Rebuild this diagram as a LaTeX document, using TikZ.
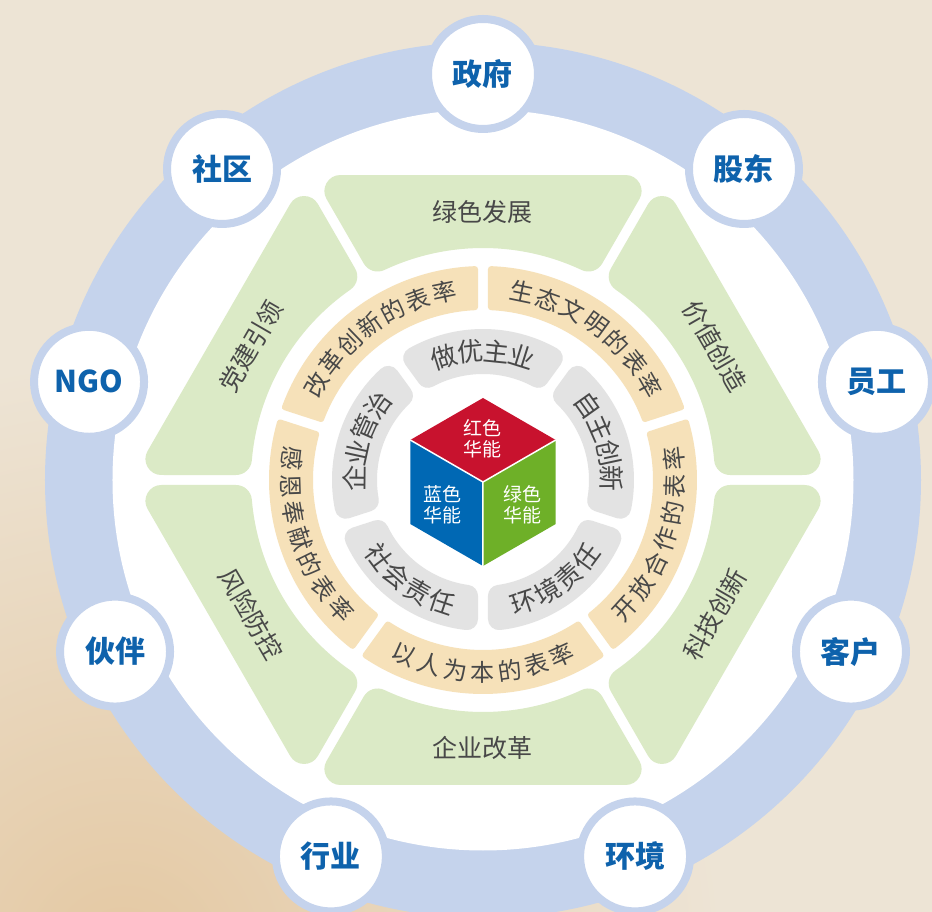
\documentclass[tikz,border=0pt]{standalone}
\usepackage{fontspec}
\setmainfont{Noto Sans CJK SC}
\usetikzlibrary{calc}

\definecolor{paper}{RGB}{237,228,213}
\definecolor{paperwarm}{RGB}{228,200,162}
\definecolor{ringblue}{RGB}{197,211,236}
\definecolor{nameblue}{RGB}{14,98,172}
\definecolor{leaf}{RGB}{219,234,198}
\definecolor{sand}{RGB}{246,225,185}
\definecolor{stone}{RGB}{227,227,227}
\definecolor{ink}{RGB}{72,72,72}
\definecolor{cubered}{RGB}{200,18,46}
\definecolor{cubeblue}{RGB}{0,104,180}
\definecolor{cubegreen}{RGB}{110,176,40}

\tikzset{
  stake/.style={circle, fill=white, draw=ringblue, line width=8pt, minimum size=110pt,
    inner sep=0pt, text=nameblue, font=\fontsize{30}{30}\selectfont\bfseries},
  leaflabel/.style={text=ink, inner sep=0pt, font=\fontsize{25}{25}\selectfont},
  cubelabel/.style={text=white, align=center, inner sep=0pt, font=\fontsize{19}{21}\selectfont}
}

% piece of a ring: colour, inner r, outer r, from, to, rounding, half gap
\newcommand{\ringpiece}[7]{%
  \pgfmathsetmacro\pri{#2+#6}
  \pgfmathsetmacro\pro{#3-#6}
  \pgfmathsetmacro\pdd{#7+#6}
  \pgfmathsetmacro\pbo{asin(\pdd/\pro)}
  \pgfmathsetmacro\pbi{asin(\pdd/\pri)}
  \pgfmathsetmacro\plw{2*#6}
  \filldraw[#1, line width=\plw pt, line join=round]
    (#4+\pbo:\pro) arc[start angle=#4+\pbo, end angle=#5-\pbo, radius=\pro]
    -- (#5-\pbi:\pri) arc[start angle=#5-\pbi, end angle=#4+\pbi, radius=\pri] -- cycle;
}

% piece of the hexagon: side centre angle
\newcommand{\hexpiece}[1]{%
  \pgfmathsetmacro\hq{(289-0.5*21)/cos(30)}
  \pgfmathsetmacro\hro{veclen(\hq,21)}
  \pgfmathsetmacro\hbo{atan(21/\hq)}
  \pgfmathsetmacro\hbi{asin(21/248)}
  \filldraw[leaf, line width=32pt, line join=round]
    (#1-30+\hbo:\hro) -- (#1+30-\hbo:\hro) -- (#1+30-\hbi:248)
    arc[start angle=#1+30-\hbi, end angle=#1-30+\hbi, radius=248] -- cycle;
}

% letters round an arc: name, size, radius, centre angle, step, turn, count, letters
\newcommand{\arctext}[8]{%
  \foreach \ch [count=\cc] in {#8}{
    \pgfmathsetmacro\chang{#4+((#7+1)/2-\cc)*#5}
    \pgfmathsetmacro\chrot{\chang+#6}
    \node[text=ink, inner sep=0pt, rotate=\chrot, font=\fontsize{#2}{#2}\selectfont]
      (#1\cc) at (\chang:#3) {\ch};
  }
}

\begin{document}
\begin{tikzpicture}[x=1pt, y=1pt]
  \useasboundingbox (-483,-432) rectangle (449,480);
  % paper
  \fill[paper] (-483,-432) rectangle (449,480);
  \begin{scope}
    \clip (-483,-432) rectangle (449,480);
    \shade[inner color=paperwarm, outer color=paper] (-360,-480) circle (600);
  \end{scope}
  % outer ring
  \draw[ringblue, line width=68pt] (0,0) circle (404);
  \fill[white] (0,0) circle (370.5);
  % hexagon
  \hexpiece{90}
  \hexpiece{30}
  \hexpiece{-30}
  \hexpiece{-90}
  \hexpiece{-150}
  \hexpiece{150}
  \node[leaflabel] (lsfz) at (90:268) {绿色发展};
  \node[leaflabel, rotate=-60] (jzcz) at (30:268) {价值创造};
  \node[leaflabel, rotate=60] (kjcx) at (-30:268) {科技创新};
  \node[leaflabel] (qygg) at (-90:268) {企业改革};
  \node[leaflabel, rotate=-60] (fxfk) at (-150:268) {风险防控};
  \node[leaflabel, rotate=60] (djyl) at (150:268) {党建引领};
  % sand ring
  \ringpiece{sand}{170}{214}{18}{90}{3}{5}
  \ringpiece{sand}{170}{214}{90}{162}{3}{5}
  \ringpiece{sand}{170}{214}{162}{234}{3}{5}
  \ringpiece{sand}{170}{214}{234}{306}{3}{5}
  \ringpiece{sand}{170}{214}{-54}{18}{3}{5}
  \arctext{st}{24}{192}{54}{8.1}{-90}{7}{生,态,文,明,的,表,率}
  \arctext{gg}{24}{192}{126}{8.1}{-90}{7}{改,革,创,新,的,表,率}
  \arctext{ge}{24}{192}{198}{-8.1}{90}{7}{感,恩,奉,献,的,表,率}
  \arctext{yr}{24}{192}{-90}{-8.1}{90}{7}{以,人,为,本,的,表,率}
  \arctext{kf}{24}{192}{-18}{-8.1}{90}{7}{开,放,合,作,的,表,率}
  % stone ring
  \ringpiece{stone}{106}{151}{54}{126}{11}{5}
  \ringpiece{stone}{106}{151}{-18}{54}{11}{5}
  \ringpiece{stone}{106}{151}{-90}{-18}{11}{5}
  \ringpiece{stone}{106}{151}{198}{270}{11}{5}
  \ringpiece{stone}{106}{151}{126}{198}{11}{5}
  \arctext{zy}{26}{129}{90}{11.6}{-90}{4}{做,优,主,业}
  \arctext{zz}{26}{129}{18}{11.6}{-90}{4}{自,主,创,新}
  \arctext{hj}{26}{129}{-54}{-11.6}{90}{4}{环,境,责,任}
  \arctext{sh}{26}{129}{-126}{-11.6}{90}{4}{社,会,责,任}
  \arctext{gz}{26}{129}{162}{11.6}{-90}{4}{企,业,管,治}
  % cube
  \coordinate (cc) at (0,-2);
  \fill[cubered] (cc) -- ++(30:84) -- ++(150:84) -- ++(210:84) -- cycle;
  \fill[cubeblue] (cc) -- ++(150:84) -- ++(270:84) -- ++(330:84) -- cycle;
  \fill[cubegreen] (cc) -- ++(270:84) -- ++(30:84) -- ++(90:84) -- cycle;
  \draw[white, line width=1.5pt] (cc) -- ++(30:84) (cc) -- ++(150:84) (cc) -- ++(270:84);
  \node[cubelabel] (hong) at (0,41) {红色\\华能};
  \node[cubelabel] (lan) at (-40,-25) {蓝色\\华能};
  \node[cubelabel] (lv) at (39,-25) {绿色\\华能};
  % stakeholders
  \node[stake] (zhengfu) at (90:406) {政府};
  \node[stake] (gudong) at (50:406) {股东};
  \node[stake] (yuangong) at (14:406) {员工};
  \node[stake] (kehu) at (-25:406) {客户};
  \node[stake] (huanjing) at (-68:406) {环境};
  \node[stake] (hangye) at (-112:406) {行业};
  \node[stake] (huoban) at (-155:406) {伙伴};
  \node[stake] (ngo) at (166:406) {NGO};
  \node[stake] (shequ) at (130:406) {社区};
\end{tikzpicture}
\end{document}
